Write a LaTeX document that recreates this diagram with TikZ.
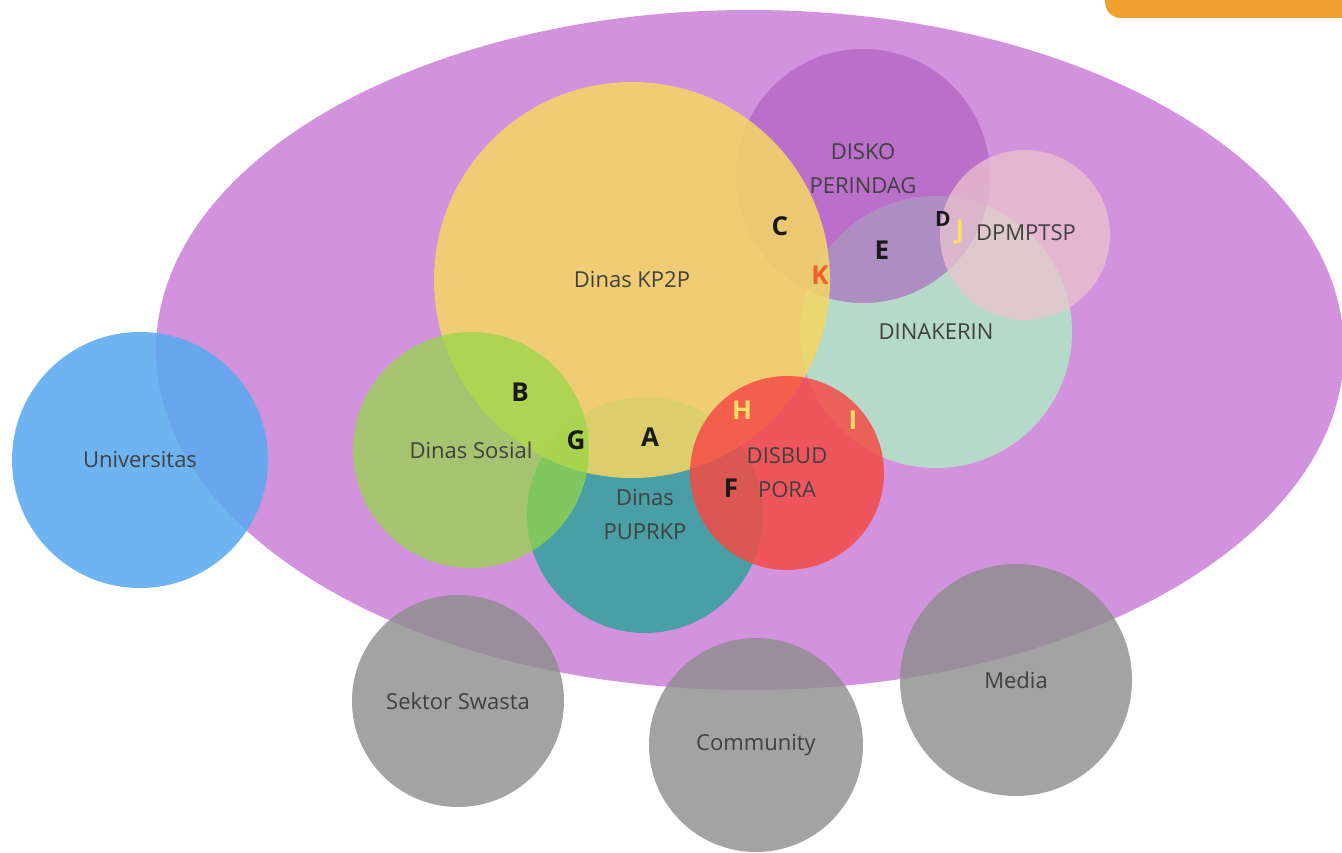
\documentclass[tikz,border=0pt]{standalone}
\usepackage{fontspec}
\setmainfont{Open Sans}
\definecolor{lilac}{RGB}{211,146,221}
\definecolor{tabor}{RGB}{240,160,48}
\definecolor{skyb}{RGB}{90,170,240}
\definecolor{greyc}{RGB}{140,140,140}
\definecolor{tealc}{RGB}{60,160,160}
\definecolor{mintc}{RGB}{180,222,200}
\definecolor{plumc}{RGB}{170,90,190}
\definecolor{pinkc}{RGB}{235,195,205}
\definecolor{yellc}{RGB}{245,215,100}
\definecolor{grnc}{RGB}{150,215,70}
\definecolor{redc}{RGB}{245,75,70}
\definecolor{lettery}{RGB}{255,224,102}
\definecolor{letterk}{RGB}{240,96,42}
\begin{document}
\begin{tikzpicture}[x=1pt,y=-1pt,
    disc/.style={circle,inner sep=0pt,align=center,text=black!75,
      font=\fontsize{22}{34}\selectfont},
    tag/.style={font=\fontsize{26}{30}\selectfont\bfseries,text=black!90}]
    \useasboundingbox (0,0) rectangle (1342,853);
    \fill[white] (0,0) rectangle (1342,853);
    \fill[lilac] (750,350) ellipse [x radius=594pt, y radius=340pt];
    \fill[tabor] (1342,0) -- (1105,0) [rounded corners=16pt] -- (1105,18) [sharp corners] -- (1342,18) -- cycle;
    \node[disc,fill=skyb,fill opacity=0.88,text opacity=1,minimum size=256pt] (univ) at (140,460) {Universitas};
    \node[disc,fill=greyc,fill opacity=0.8,text opacity=1,minimum size=212pt] (swasta) at (458,701) {Sektor Swasta};
    \node[disc,fill=greyc,fill opacity=0.8,text opacity=1,minimum size=214pt] (comm) at (756,745) {Community};
    \node[disc,fill=greyc,fill opacity=0.8,text opacity=1,minimum size=232pt] (media) at (1016,680) {Media};
    \node[disc,fill=tealc,fill opacity=0.9,text opacity=1,minimum size=236pt] (puprkp) at (645,515) {Dinas\\PUPRKP};
    \node[disc,fill=mintc,fill opacity=0.95,text opacity=1,minimum size=272pt] (dinakerin) at (936,332) {DINAKERIN};
    \node[disc,fill=plumc,fill opacity=0.6,minimum size=254pt] (disko) at (863,176) {};
    \node[disc,fill=pinkc,fill opacity=0.75,minimum size=170pt] (dpmptsp) at (1025,235) {};
    \node[disc,fill=yellc,fill opacity=0.86,text opacity=1,minimum size=396pt] (kp2p) at (632,280) {Dinas KP2P};
    \node[disc,fill=grnc,fill opacity=0.72,text opacity=1,minimum size=236pt] (sosial) at (471,450) {Dinas Sosial};
    \node[disc,fill=redc,fill opacity=0.85,text opacity=1,minimum size=194pt] (disbud) at (787,473) {DISBUD\\PORA};
    \node[disc] (diskol) at (863,169) {DISKO\\PERINDAG};
    \node[disc] (dpmptspl) at (1026,233) {DPMPTSP};
    \node[tag] (a) at (650,437) {A};
    \node[tag] (b) at (520,392) {B};
    \node[tag] (c) at (780,226) {C};
    \node[tag,font=\fontsize{21}{24}\selectfont\bfseries] (d) at (943,219) {D};
    \node[tag] (e) at (882,250) {E};
    \node[tag] (f) at (731,488) {F};
    \node[tag] (g) at (576,440) {G};
    \node[tag,text=lettery] (h) at (742,410) {H};
    \node[tag,text=lettery] (i) at (853,420) {I};
    \node[tag,text=lettery] (j) at (960,232) {J};
    \node[tag,text=letterk] (k) at (820,275) {K};
\end{tikzpicture}
\end{document}
